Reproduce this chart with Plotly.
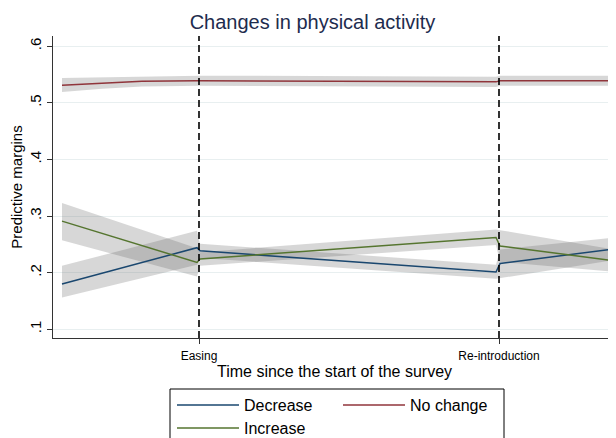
import plotly.graph_objects as go

# ---------------- data ----------------
# time axis (arbitrary units): Easing at 13.7, Re-introduction at 43.7
tick_vals = [13.7, 43.7]
tick_text = ["Easing", "Re-introduction"]

time_dec = [0, 13.5, 13.8, 43.4, 43.8, 54.8]
dec_val = [0.180, 0.244, 0.2385, 0.201, 0.216, 0.241]
dec_lo = [0.156, 0.214, 0.226, 0.189, 0.191, 0.221]
dec_hi = [0.212, 0.274, 0.251, 0.214, 0.241, 0.261]

time_inc = [0, 13.5, 13.8, 43.4, 43.8, 54.8]
inc_val = [0.291, 0.218, 0.224, 0.262, 0.247, 0.222]
inc_lo = [0.257, 0.193, 0.212, 0.249, 0.219, 0.202]
inc_hi = [0.323, 0.243, 0.236, 0.276, 0.275, 0.242]

time_nc = [0, 4, 8, 13.5, 13.8, 43.4, 43.8, 54.8]
nc_val = [0.531, 0.535, 0.538, 0.539, 0.539, 0.537, 0.539, 0.539]
nc_lo = [0.519, 0.525, 0.529, 0.530, 0.530, 0.528, 0.530, 0.530]
nc_hi = [0.544, 0.545, 0.547, 0.548, 0.548, 0.546, 0.548, 0.548]

y_ticks = [0.1, 0.2, 0.3, 0.4, 0.5, 0.6]
y_text = [".1", ".2", ".3", ".4", ".5", ".6"]

# ---------------- styling ----------------
FONT = "Liberation Sans, Arial, sans-serif"
C_DEC = "#1a476f"
C_NC = "#90353b"
C_INC = "#55752f"
BAND = "rgba(95,95,95,0.25)"

OFF = 8  # browser body margin
W, H = 616 - OFF, 438 - OFF
# plot area in window pixels
L, R_EDGE, TOP, BOT = 53, 616, 36, 338
PW, PH = R_EDGE - L, BOT - TOP


def px_x(p):
    return (p - L) / PW


def px_y(p):
    return (BOT - p) / PH


fig = go.Figure()

series = [
    ("Decrease", time_dec, dec_val, dec_lo, dec_hi, C_DEC, "legend"),
    ("No change", time_nc, nc_val, nc_lo, nc_hi, C_NC, "legend"),
    ("Increase", time_inc, inc_val, inc_lo, inc_hi, C_INC, "legend2"),
]

# confidence bands first
for name, t, v, lo, hi, c, lg in series:
    fig.add_trace(go.Scatter(
        x=list(t) + list(t)[::-1],
        y=list(hi) + list(lo)[::-1],
        fill="toself", fillcolor=BAND, line=dict(width=0),
        mode="lines", showlegend=False, hoverinfo="skip",
    ))

# lines
for name, t, v, lo, hi, c, lg in series:
    fig.add_trace(go.Scatter(
        x=t, y=v, mode="lines", name=name,
        line=dict(color=c, width=1.5), legend=lg,
    ))

# vertical dashed lines
for tv in tick_vals:
    fig.add_shape(type="line", xref="x", yref="paper", x0=tv, x1=tv, y0=0, y1=1,
                  line=dict(color="black", width=1.6, dash="7px,4px"), layer="above")

# legend frame
fig.add_shape(type="rect", xref="paper", yref="paper",
              x0=px_x(170), x1=px_x(504), y0=px_y(389), y1=px_y(460),
              line=dict(color="black", width=1), fillcolor="rgba(0,0,0,0)", layer="above")

legend_common = dict(
    orientation="h", xanchor="left", yanchor="top", x=px_x(172),
    font=dict(family=FONT, size=16, color="black"),
    itemwidth=62, entrywidth=89, entrywidthmode="pixels",
    bgcolor="rgba(0,0,0,0)", borderwidth=0, traceorder="normal",
)

fig.update_layout(
    width=W, height=H,
    margin=dict(l=L - OFF, r=0, t=TOP - OFF, b=H - (BOT - OFF), autoexpand=False),
    plot_bgcolor="white", paper_bgcolor="white",
    font=dict(family=FONT, color="black"),
    title=dict(text="Changes in physical activity", x=(312.5 - OFF) / W, xanchor="center",
               xref="container", y=1 - (22 - OFF) / H, yanchor="middle", yref="container",
               font=dict(family=FONT, size=20, color="#1e2c4e")),
    legend=dict(y=px_y(388), **legend_common),
    legend2=dict(y=px_y(411), **legend_common),
    xaxis=dict(
        range=[-0.9, 55.4], tickvals=tick_vals, ticktext=tick_text,
        ticks="outside", ticklen=5, tickcolor="#333", ticklabelstandoff=2,
        tickfont=dict(family=FONT, size=12, color="black"),
        showline=True, linecolor="#333", linewidth=1,
        showgrid=False, zeroline=False,
        title=dict(text="Time since the start of the survey", standoff=2,
                   font=dict(family=FONT, size=16, color="black")),
    ),
    yaxis=dict(
        range=[0.0845, 0.618], tickvals=y_ticks, ticktext=y_text, tickangle=-90,
        ticks="outside", ticklen=5, tickcolor="#333",
        tickfont=dict(family=FONT, size=15, color="black"),
        showline=True, linecolor="#333", linewidth=1,
        showgrid=True, gridcolor="#e8eff0", gridwidth=1, zeroline=False,
        title=dict(text="Predictive margins", standoff=0,
                   font=dict(family=FONT, size=15, color="black")),
    ),
)

fig.write_html("out.html")
